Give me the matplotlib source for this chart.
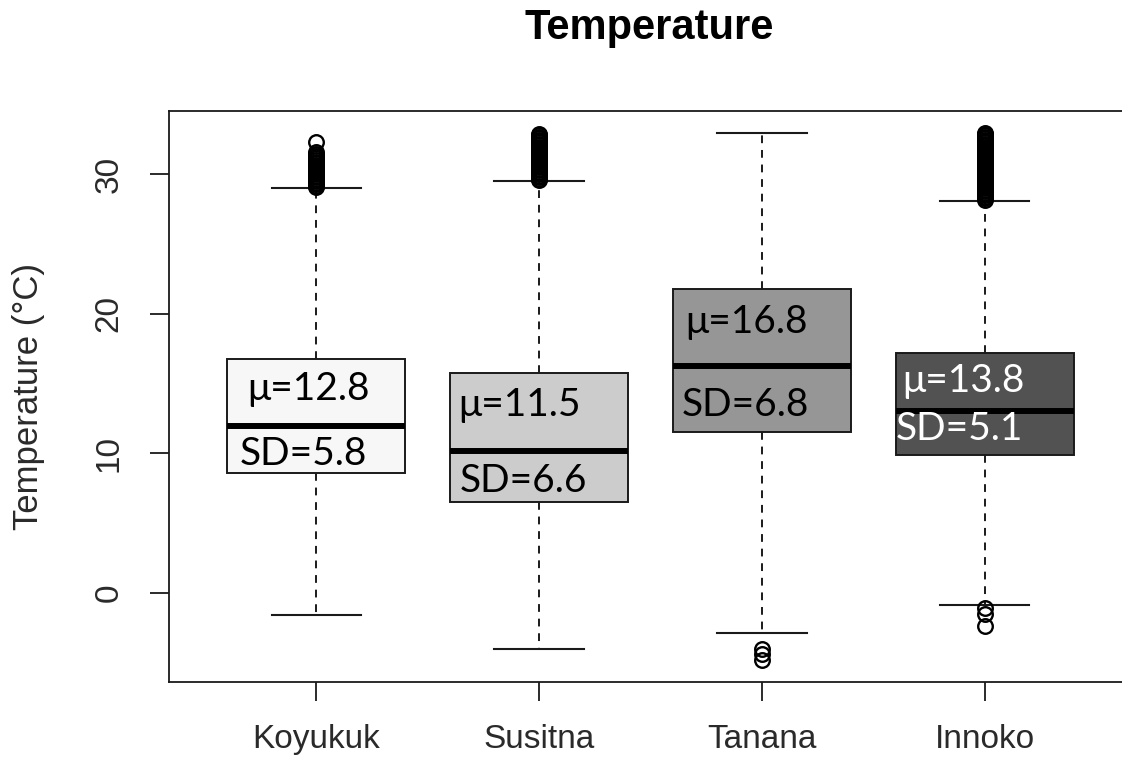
import matplotlib.pyplot as plt

plt.rcParams['font.family'] = ['Liberation Sans', 'DejaVu Sans']

rivers = ["Koyukuk", "Susitna", "Tanana", "Innoko"]
fills = ["#f7f7f7", "#cccccc", "#969696", "#525252"]

# five-number summaries (deg C)
q1 = [8.60, 6.52, 11.54, 9.89]
med = [11.97, 10.18, 16.27, 13.05]
q3 = [16.77, 15.77, 21.79, 17.20]
whislo = [-1.58, -4.01, -2.85, -0.86]
whishi = [29.03, 29.53, 33.00, 28.10]

fliers = [
    [29.1, 29.2, 29.3, 29.4, 29.5, 29.6, 29.7, 29.8, 29.9, 30.0, 30.1, 30.2,
     30.3, 30.4, 30.5, 30.6, 30.7, 30.8, 30.9, 31.0, 31.15, 31.3, 31.45, 31.6,
     32.35],
    [29.6, 29.7, 29.8, 29.9, 30.0, 30.1, 30.2, 30.3, 30.4, 30.5, 30.6, 30.7,
     30.8, 30.9, 31.0, 31.1, 31.2, 31.3, 31.4, 31.5, 31.6, 31.7, 31.8, 31.9,
     32.0, 32.1, 32.2, 32.3, 32.4, 32.5, 32.6, 32.7, 32.8, 32.9],
    [-4.0, -4.4, -4.8],
    [28.2, 28.3, 28.4, 28.5, 28.6, 28.7, 28.8, 28.9, 29.0, 29.1, 29.2, 29.3,
     29.4, 29.5, 29.6, 29.7, 29.8, 29.9, 30.0, 30.1, 30.2, 30.3, 30.4, 30.5,
     30.6, 30.7, 30.8, 30.9, 31.0, 31.1, 31.2, 31.3, 31.4, 31.5, 31.6, 31.7,
     31.8, 31.9, 32.0, 32.1, 32.2, 32.3, 32.4, 32.5, 32.6, 32.7, 32.8, 32.9,
     33.0, -1.1, -1.5, -2.4],
]

means = [12.8, 11.5, 16.8, 13.8]
sds = [5.8, 6.6, 6.8, 5.1]

# where the mean / SD annotations sit (x offset from box centre, y in deg C)
mu_dx = [-0.309, -0.363, -0.345, -0.372]
mu_y = [13.84, 12.71, 18.64, 14.41]
sd_dx = [-0.341, -0.354, -0.359, -0.399]
sd_y = [9.18, 7.24, 12.69, 10.97]
text_colors = ["black", "black", "black", "white"]

positions = [1, 2, 3, 4]

fig = plt.figure(figsize=(11.22, 7.63), dpi=100)
ax = fig.add_axes([0.1506, 0.1062, 0.8583, 0.7484])

stats = []
for i in range(len(rivers)):
    stats.append(dict(label=rivers[i], q1=q1[i], med=med[i], q3=q3[i],
                      whislo=whislo[i], whishi=whishi[i], fliers=fliers[i]))

bp = ax.bxp(stats, positions=positions, widths=0.8, capwidths=0.4,
            patch_artist=True,
            boxprops=dict(linewidth=1.4, edgecolor="#1a1a1a"),
            medianprops=dict(color="black", linewidth=4.3, solid_capstyle="butt"),
            whiskerprops=dict(color="#1a1a1a", linewidth=1.4, linestyle=(0, (4, 3.5))),
            capprops=dict(color="#1a1a1a", linewidth=1.5),
            flierprops=dict(marker="o", markersize=10.5, markerfacecolor="none",
                            markeredgecolor="black", markeredgewidth=1.7))
for patch, c in zip(bp["boxes"], fills):
    patch.set_facecolor(c)

for i in range(len(rivers)):
    ax.text(positions[i] + mu_dx[i], mu_y[i], f"\u03bc={means[i]}", fontsize=28,
            family=["Lato", "DejaVu Sans"], color=text_colors[i],
            ha="left", va="baseline")
    ax.text(positions[i] + sd_dx[i], sd_y[i], f"SD={sds[i]}", fontsize=28,
            family=["Lato", "DejaVu Sans"], color=text_colors[i],
            ha="left", va="baseline")

ax.set_xlim(0.34, 4.66)
ax.set_ylim(-6.38, 34.55)
ax.set_yticks([0, 10, 20, 30])
ax.set_xticks(positions)
ax.set_xticklabels(rivers)

ax.tick_params(axis="both", colors="#1a1a1a", labelcolor="#2a2a2a",
               length=14, width=1.3, labelsize=24)
ax.tick_params(axis="y", pad=18)
ax.tick_params(axis="x", pad=16)
for lab in ax.get_yticklabels():
    lab.set_rotation(90)
    lab.set_va("center")

for s in ax.spines.values():
    s.set_linewidth(1.3)
    s.set_color("#1a1a1a")
ax.spines["right"].set_visible(False)

fig.text(0.5784, 1 - 39 / 763, "Temperature", ha="center", va="baseline",
         fontsize=30, fontweight="bold")
fig.text(0.025, 0.4797, "Temperature (\u00b0C)", rotation=90, ha="center",
         va="center", fontsize=25, color="#2a2a2a")

fig.savefig("out.png", dpi=100)
